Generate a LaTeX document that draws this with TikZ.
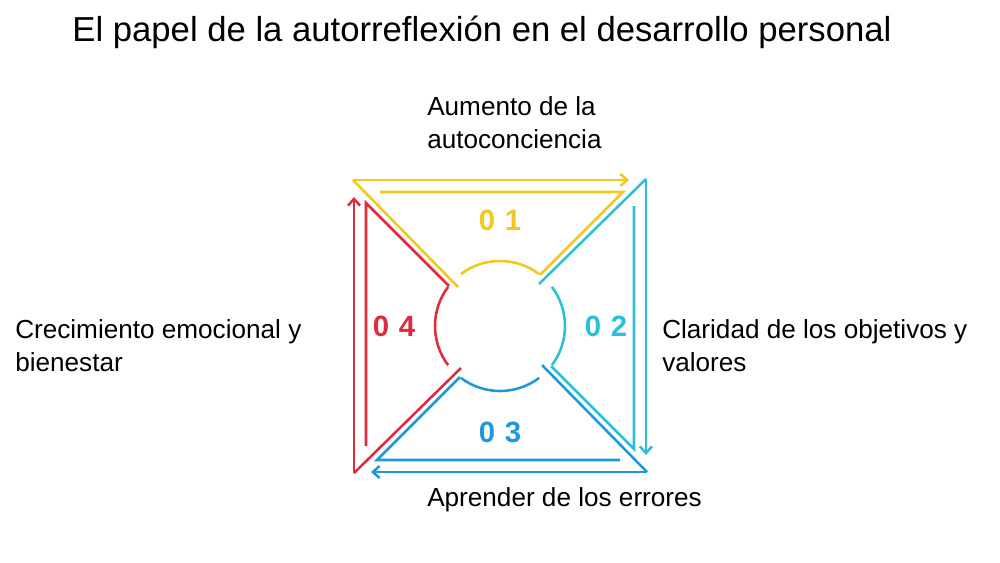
\documentclass[tikz,border=0pt]{standalone}
\usepackage{fontspec}
\setmainfont{Liberation Sans}
\usetikzlibrary{arrows.meta,calc}
\definecolor{cA}{HTML}{F0C820}
\definecolor{cB}{HTML}{2CC0D8}
\definecolor{cC}{HTML}{1E98D8}
\definecolor{cD}{HTML}{E02A3E}
\begin{document}
\begin{tikzpicture}
	[	x=0.75pt,y=-0.75pt,
	seg/.style={line width=1.9pt,line join=miter},
	num/.style={font=\bfseries\fontsize{22}{22}\selectfont},
	lbl/.style={font=\fontsize{19.6}{25}\selectfont,align=left,anchor=north west,inner sep=0pt}
	]
	\useasboundingbox (0,0) rectangle (1000,562);
	\node[font=\fontsize{26}{30}\selectfont] (title) at (482,32){El papel de la autorreflexión en el desarrollo personal};
	% four segments, each one turned by 90 degrees
	\foreach \ang/\col/\txt in {0/cA/0\,\,1,90/cB/0\,\,2,180/cC/0\,\,3,270/cD/0\,\,4}{
		\begin{scope}[shift={(500,326)},rotate=-\ang]
		\draw[seg,\col,-{Straight Barb[length=5pt,width=9pt]}] (-147,-146) -- (129,-146);
		\draw[seg,\col] (-120,-134) -- (123,-134) -- (40,-51);
		\draw[seg,\col] (-147,-146) -- (-42,-39);
		\draw[seg,\col] (-127:65) arc[start angle=-127,end angle=-53,radius=65];
		\end{scope}
		\node[num,text=\col] (n\ang) at ($(500,326)+(\ang-90:106)$){\txt};
	}
	\node[lbl] (l1) at (427,96){Aumento de la\\autoconciencia};
	\node[lbl] (l2) at (662,319){Claridad de los objetivos y\\valores};
	\node[lbl] (l3) at (427,487){Aprender de los errores};
	\node[lbl] (l4) at (15,319){Crecimiento emocional y\\bienestar};
\end{tikzpicture}
\end{document}
